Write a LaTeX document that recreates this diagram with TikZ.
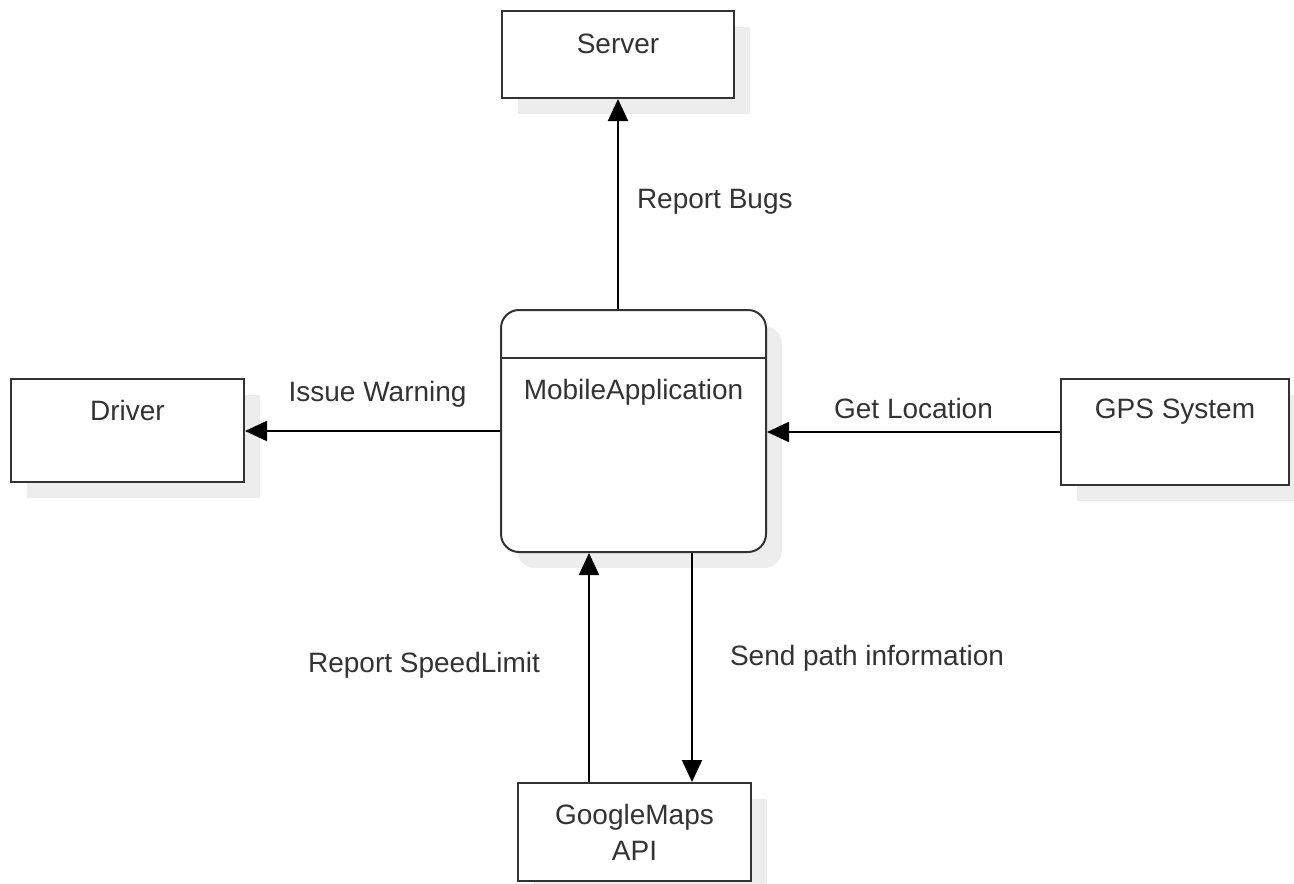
\documentclass[tikz,border=0pt]{standalone}
\usepackage{fontspec}
\setmainfont{Liberation Sans}
\usetikzlibrary{arrows.meta,shapes,shadows,positioning}

\begin{document}
\begin{tikzpicture}[x=1pt,y=-1pt,
    box/.style={draw=black!80,line width=2pt,fill=white,inner sep=0pt,
      drop shadow={shadow xshift=16pt,shadow yshift=-16pt,fill=black!7,opacity=1}},
    txt/.style={text=black!80,inner sep=0pt,font=\fontsize{28}{36}\selectfont},
    flow/.style={line width=2pt,-{Triangle[length=22pt,width=20pt]}}]
    \useasboundingbox (0,0) rectangle (1294,884);

    \node[box,minimum width=232pt,minimum height=87pt,
      label={[txt,below=24pt]north:Server}] (server) at (618,54.5) {};
    \node[box,rounded corners=18pt,minimum width=265pt,minimum height=242pt,
      label={[txt,below=70pt]north:MobileApplication}] (mobile) at (633.5,431) {};
    \draw[draw=black!80,line width=2pt] ([yshift=-49pt]mobile.north west) -- ([yshift=-49pt]mobile.north east);
    \node[box,minimum width=233pt,minimum height=103pt,
      label={[txt,below=22pt]north:Driver}] (driver) at (127.5,430.5) {};
    \node[box,minimum width=228pt,minimum height=106pt,
      label={[txt,below=21pt]north:GPS System}] (gps) at (1175,432) {};
    \node[box,txt,align=center,minimum width=233pt,minimum height=98pt] (gmaps) at (634.5,832) {GoogleMaps\\API};

    \draw[flow] (mobile.north -| server.south) -- node[txt,right=18pt,pos=0.51] {Report Bugs} (server.south);
    \draw[flow] (mobile.west) -- node[txt,pos=0.48,yshift=37pt] {Issue Warning} (mobile.west -| driver.east);
    \draw[flow] (gps.west) -- node[txt,midway,yshift=24pt] {Get Location} (gps.west -| mobile.east);
    \draw[flow] ([xshift=-45.5pt]gmaps.north) -- node[txt,left=48pt,pos=0.51] {Report SpeedLimit} ([xshift=-45.5pt]gmaps.north |- mobile.south);
    \draw[flow] ([xshift=58.5pt]mobile.south) -- node[txt,right=37pt,pos=0.46] {Send path information} ([xshift=58.5pt]mobile.south |- gmaps.north);
\end{tikzpicture}
\end{document}
